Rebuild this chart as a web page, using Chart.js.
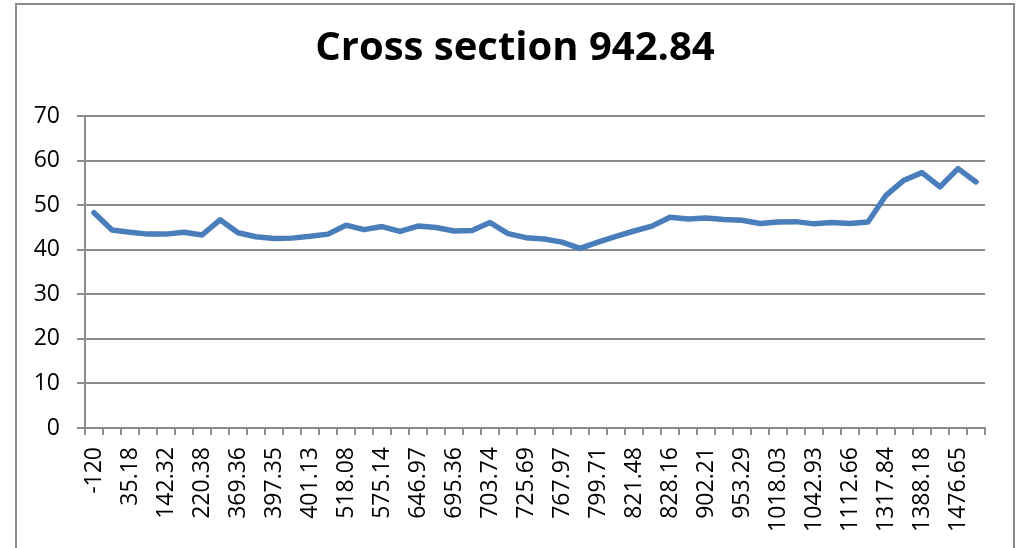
<!DOCTYPE html>
<html>
<head>
<meta charset="utf-8">
<script src="https://cdn.jsdelivr.net/npm/chart.js@4"></script>
<style>
  html, body { margin: 0; padding: 0; background: #fff; }
  #wrap { position: relative; width: 1018px; height: 548px; overflow: hidden; }
  #frame { position: absolute; left: 15px; top: 3px; width: 996px; height: 600px; border: 2px solid #8c8c8c; }
  canvas { position: absolute; left: 0; top: 0; }
</style>
</head>
<body>
<div id="wrap">
  <div id="frame"></div>
  <canvas id="myChart" width="1018" height="548"></canvas>
</div>
<script>
  // distances along the section (only every other one is printed on the axis)
  const stations = [
    '-120', '-40.5', '35.18', '90.2', '142.32', '180.6', '220.38', '300.1', '369.36', '385.2',
    '397.35', '399.8', '401.13', '460.5', '518.08', '545.3', '575.14', '610.4', '646.97', '670.2',
    '695.36', '699.1', '703.74', '714.3', '725.69', '745.8', '767.97', '785.4', '799.71', '810.6',
    '821.48', '825.3', '828.16', '865.7', '902.21', '928.4', '953.29', '985.6', '1018.03', '1030.5',
    '1042.93', '1078.2', '1112.66', '1215.3', '1317.84', '1352.1', '1388.18', '1432.4', '1476.65', '1520.3'
  ];

  const levels = [
    48.3, 44.4, 43.9, 43.5, 43.5, 43.9, 43.3, 46.7, 43.8, 42.9,
    42.5, 42.6, 43.0, 43.5, 45.5, 44.5, 45.2, 44.1, 45.3, 45.0,
    44.2, 44.3, 46.1, 43.6, 42.7, 42.4, 41.7, 40.3, 41.7, 43.0,
    44.2, 45.3, 47.3, 46.9, 47.1, 46.8, 46.6, 45.9, 46.2, 46.3,
    45.8, 46.1, 45.9, 46.2, 52.2, 55.6, 57.3, 54.1, 58.2, 55.2
  ];

  const yTicks = [0, 10, 20, 30, 40, 50, 60, 70];

  const gridGrey = '#8c8c8c';

  const config = {
    type: 'line',
    data: {
      labels: stations,
      datasets: [{
        label: 'Cross section 942.84',
        data: levels,
        yAxisID: 'y',
        borderColor: '#4a7ebb',
        borderWidth: 5.5,
        pointRadius: 0,
        tension: 0,
        borderJoinStyle: 'round',
        borderCapStyle: 'round'
      }]
    },
    options: {
      responsive: false,
      animation: false,
      layout: { padding: { left: 12, right: 0, top: 0, bottom: 0 } },
      plugins: {
        legend: { display: false },
        tooltip: { enabled: false },
        title: {
          display: true,
          text: 'Cross section 942.84',
          color: '#000',
          font: { family: 'Open Sans', size: 40, weight: 'bold' },
          padding: { top: 25, bottom: 43 }
        }
      },
      scales: {
        x: {
          offset: true,
          grid: { offset: true, drawOnChartArea: false, drawTicks: true, tickLength: 7, color: gridGrey, lineWidth: 2 },
          border: { color: gridGrey, width: 2 },
          ticks: {
            autoSkip: false,
            minRotation: 90,
            maxRotation: 90,
            padding: 12,
            color: '#000',
            font: { family: 'Open Sans', size: 23 },
            callback: function (value, index) {
              return index % 2 === 0 ? stations[index] : '';
            }
          },
          afterFit: function (scale) { scale.height = 120; }
        },
        y: {
          min: yTicks[0],
          max: yTicks[yTicks.length - 1],
          afterBuildTicks: function (scale) {
            scale.ticks = yTicks.map(function (v) { return { value: v }; });
          },
          grid: { color: gridGrey, lineWidth: 2, tickLength: 8 },
          border: { color: gridGrey, width: 2 },
          ticks: {
            padding: 17,
            color: '#000',
            font: { family: 'Open Sans', size: 23 }
          },
          afterFit: function (scale) { scale.width = 73; }
        },
        // empty axis on the right, only keeps the plot clear of the frame
        yRight: {
          position: 'right',
          grid: { display: false },
          border: { display: false },
          ticks: { display: false },
          afterFit: function (scale) { scale.width = 33; }
        }
      }
    }
  };

  const myChart = new Chart(document.getElementById('myChart'), config);
</script>
</body>
</html>
